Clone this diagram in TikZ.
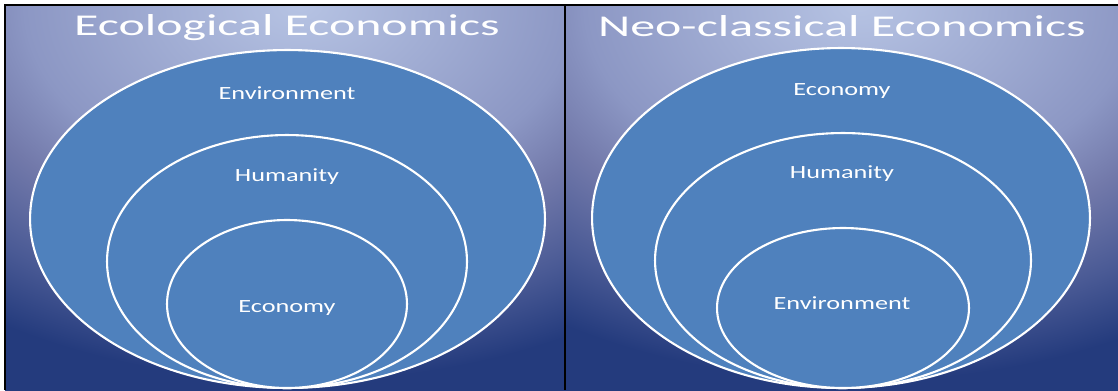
\documentclass[tikz,border=0pt]{standalone}
\usepackage{fontspec}
\setmainfont{Carlito}
\usepackage{graphicx}
\usetikzlibrary{shapes.geometric}

\definecolor{ringblue}{HTML}{4F81BD}
\definecolor{glowA}{HTML}{B6C3E3}
\definecolor{glowB}{HTML}{8C97C4}
\definecolor{glowC}{HTML}{7279AA}
\definecolor{glowD}{HTML}{4A5A95}
\definecolor{glowE}{HTML}{243B7D}
\pgfdeclareradialshading{panelglow}{\pgfpoint{0bp}{0bp}}{color(0bp)=(glowA); color(23bp)=(glowB); color(30bp)=(glowC); color(39bp)=(glowD); color(47bp)=(glowE); color(50bp)=(glowE)}
\newcommand{\widetext}[2]{\scalebox{#1}[1]{#2}}

\begin{document}
\begin{tikzpicture}[
  x=0.02cm, y=-0.02cm,
  ring/.style={ellipse, draw=white, line width=1.2pt, fill=ringblue, inner sep=0pt},
  heading/.style={anchor=base, text=white, font=\fontsize{17.2}{20}\selectfont, inner sep=0pt},
  ringlabel/.style={anchor=base, text=white, font=\fontsize{10.6}{12}\selectfont, inner sep=0pt},
  frame/.style={black, line width=1.2pt},
  glow/.style={xscale=6.8, yscale=4.535}
  ]
  \useasboundingbox (0,0) rectangle (1118,390);

  % panel backgrounds
  \begin{scope}
    \clip (5,5) rectangle (565,390);
    \fill[glowE] (5,5) rectangle (565,390);
    \begin{scope}[shift={(300,5)}, glow]
      \pgflowlevelsynccm\pgfuseshading{panelglow}
    \end{scope}
    \fill[glowE] (5,385) rectangle (565,391);
  \end{scope}
  \begin{scope}
    \clip (565,5) rectangle (1118,390);
    \fill[glowE] (565,5) rectangle (1118,390);
    \begin{scope}[shift={(860,5)}, glow]
      \pgflowlevelsynccm\pgfuseshading{panelglow}
    \end{scope}
    \fill[glowE] (565,385) rectangle (1118,391);
  \end{scope}

  % ecological economics
  \node[ring, minimum width=10.3cm, minimum height=6.76cm] (envL) at (287.5,219) {};
  \node[ring, minimum width=7.2cm, minimum height=5.06cm] (humL) at (287,261.5) {};
  \node[ring, minimum width=4.8cm, minimum height=3.36cm] (econL) at (287,304) {};
  \node[heading] (titleL) at (287,35) {\widetext{1.65}{Ecological Economics}};
  \node[ringlabel] (envLtxt) at (287,99) {\widetext{1.41}{Environment}};
  \node[ringlabel] (humLtxt) at (287,181) {\widetext{1.41}{Humanity}};
  \node[ringlabel] (econLtxt) at (287,312) {\widetext{1.41}{Economy}};

  % neo-classical economics
  \node[ring, minimum width=9.96cm, minimum height=6.8cm] (econR) at (841,218) {};
  \node[ring, minimum width=7.52cm, minimum height=5.1cm] (humR) at (843,260.5) {};
  \node[ring, minimum width=5.04cm, minimum height=3.2cm] (envR) at (843,308) {};
  \node[heading] (titleR) at (842,36) {\widetext{1.65}{Neo-classical Economics}};
  \node[ringlabel] (econRtxt) at (842,95) {\widetext{1.41}{Economy}};
  \node[ringlabel] (humRtxt) at (842,178) {\widetext{1.41}{Humanity}};
  \node[ringlabel] (envRtxt) at (842,309) {\widetext{1.41}{Environment}};

  \draw[frame] (5,390) -- (5,5) -- (1118,5);
  \draw[frame] (565,5) -- (565,390);
\end{tikzpicture}
\end{document}
